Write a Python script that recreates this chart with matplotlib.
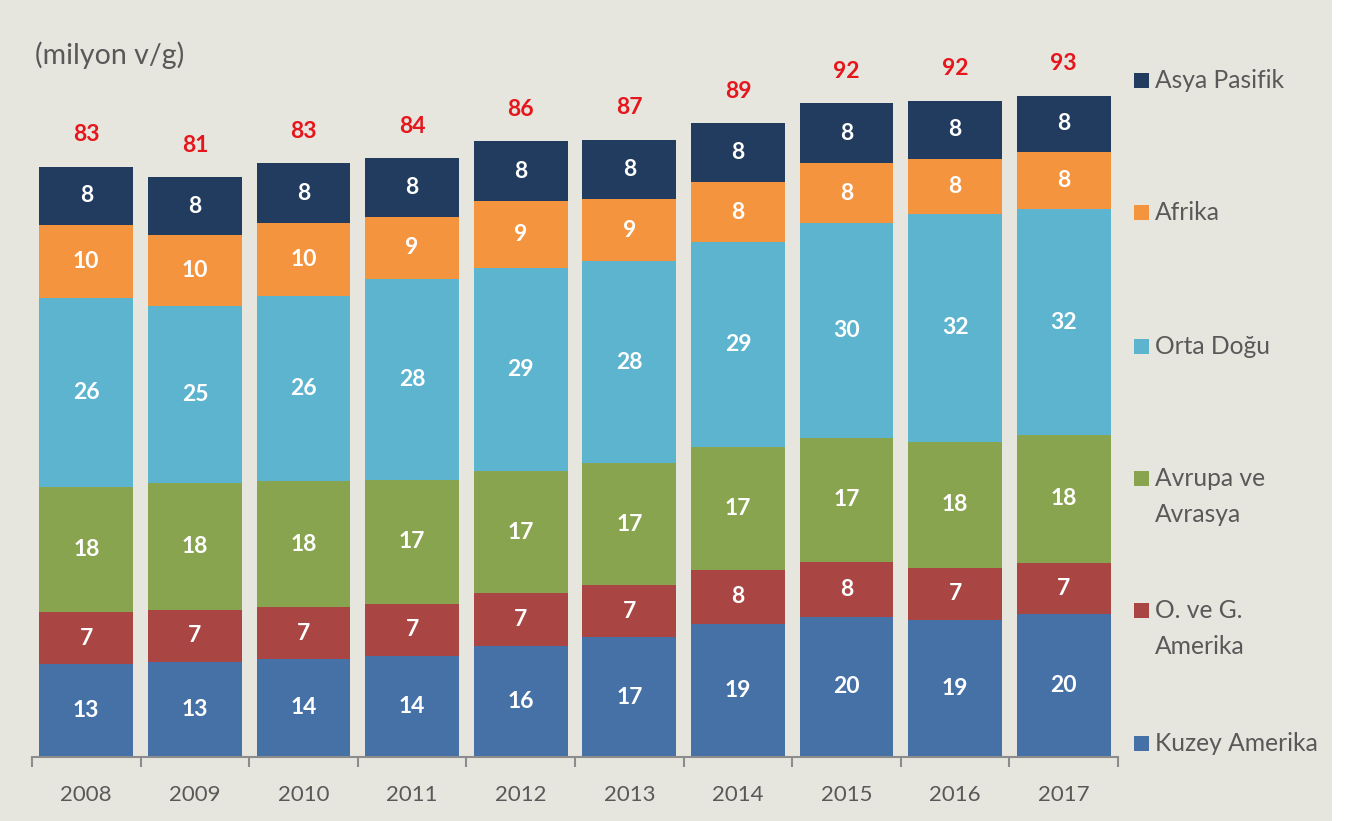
import matplotlib
matplotlib.use("Agg")
import matplotlib.pyplot as plt
from matplotlib.patches import Rectangle
import numpy as np

# values in million b/d
years = ["2008", "2009", "2010", "2011", "2012", "2013", "2014", "2015", "2016", "2017"]
kuzey_amerika = [13.0, 13.4, 13.8, 14.2, 15.6, 16.8, 18.7, 19.7, 19.2, 20.1]
o_ve_g_amerika = [7.3, 7.3, 7.2, 7.3, 7.4, 7.3, 7.6, 7.7, 7.4, 7.2]
avrupa_avrasya = [17.6, 17.8, 17.7, 17.4, 17.1, 17.2, 17.3, 17.4, 17.7, 17.9]
orta_dogu = [26.5, 24.9, 26.1, 28.3, 28.6, 28.3, 28.7, 30.2, 32.0, 31.7]
afrika = [10.3, 9.9, 10.2, 8.6, 9.4, 8.8, 8.4, 8.4, 7.7, 8.1]
asya_pasifik = [8.2, 8.1, 8.4, 8.3, 8.4, 8.3, 8.3, 8.4, 8.2, 7.9]
totals = [83, 81, 83, 84, 86, 87, 89, 92, 92, 93]

series = [kuzey_amerika, o_ve_g_amerika, avrupa_avrasya, orta_dogu, afrika, asya_pasifik]
names = ["Kuzey Amerika", "O. ve G.\nAmerika", "Avrupa ve\nAvrasya", "Orta Doğu", "Afrika", "Asya Pasifik"]
colors = ["#4671A6", "#A94543", "#89A44F", "#5CB4CE", "#F5943F", "#213C5E"]

BG = "#E6E5DE"
GREY_TEXT = "#595959"
W, H = 1348, 821

plt.rcParams['font.family'] = ['Lato', 'DejaVu Sans']

fig = plt.figure(figsize=(W / 100, H / 100), dpi=100, facecolor=BG)
ax = fig.add_axes([32 / W, 64 / H, 1086 / W, 712 / H])
ax.set_facecolor('none')

x = np.arange(len(years))
bottom = np.zeros(len(years))
for vals, color in zip(series, colors):
    vals = np.array(vals)
    bars = ax.bar(x, vals, 0.865, bottom=bottom, color=color, linewidth=0)
    ax.bar_label(bars, labels=[f"{v:.0f}" for v in vals], label_type='center',
                 color='white', fontsize=16.5, fontweight='bold')
    bottom += vals

for xi, top, t in zip(x, bottom, totals):
    ax.annotate(str(t), (xi, top), xytext=(0, 32), textcoords='offset pixels',
                ha='center', va='center', color='#E5161C', fontsize=16.5, fontweight='bold')

ax.set_xlim(-0.5, len(years) - 0.5)
ax.set_ylim(0, 100)
for s in ['top', 'left', 'right']:
    ax.spines[s].set_visible(False)
ax.spines['bottom'].set_color('#8C8C8C')
ax.spines['bottom'].set_linewidth(1.5)
ax.set_yticks([])
ax.set_xticks(x, years)
ax.tick_params(axis='x', which='major', length=0, pad=20, labelsize=16, labelcolor=GREY_TEXT)
ax.set_xticks(np.arange(-0.5, len(years), 1), minor=True)
ax.tick_params(axis='x', which='minor', length=7, width=1.5, color='#8C8C8C', direction='out')

fig.text(35 / W, 1 - 55 / H, "(milyon v/g)", fontsize=20.5, color=GREY_TEXT, va='center', ha='left')

# legend drawn by hand so the marker sits on the first line of wrapped names
leg_y = [743, 610, 478, 346, 212, 80]
for name, color, yc in zip(names, colors, leg_y):
    fig.add_artist(Rectangle((1134 / W, 1 - (yc + 8) / H), 15 / W, 15 / H,
                             transform=fig.transFigure, color=color, linewidth=0))
    fig.text(1155 / W, 1 - (yc - 11) / H, name, fontsize=17.7, color=GREY_TEXT,
             ha='left', va='top', linespacing=1.68)

fig.add_artist(Rectangle((1332 / W, 0), 1 - 1332 / W, 1, transform=fig.transFigure,
                         color='white', linewidth=0))

fig.savefig("out.png", dpi=100, facecolor=BG)
